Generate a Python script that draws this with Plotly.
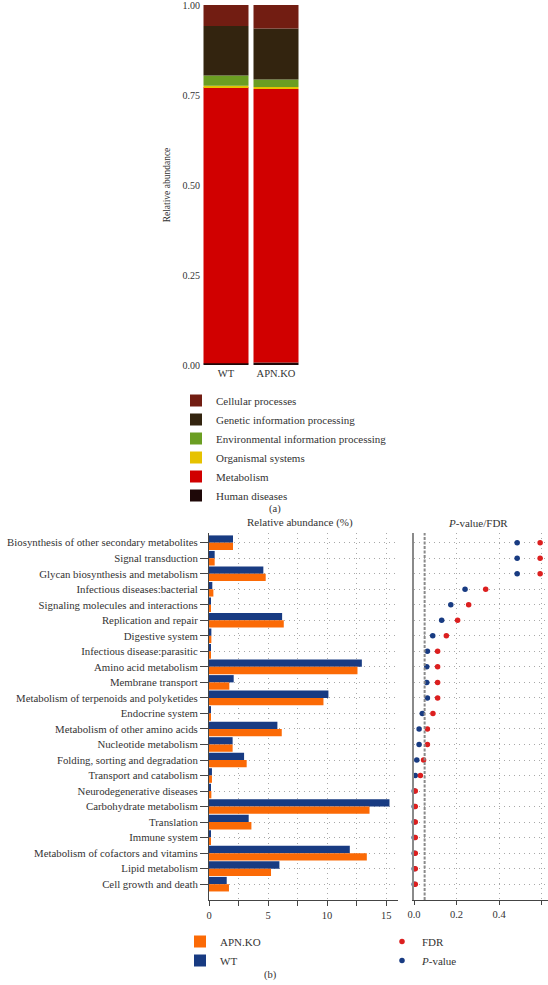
import plotly.graph_objects as go
import numpy as np

W, H = 548, 985
FONT = "Liberation Serif"
TXT = "#333333"
GRID = "#a8a8a8"
DOT = "1px,4px"

# ---------------- Panel (a): level-1 KEGG composition ----------------
samples = ["WT", "APN.KO"]
level1 = ["Human diseases", "Metabolism", "Organismal systems",
          "Environmental information processing",
          "Genetic information processing", "Cellular processes"]
level1_colors = ["#1e0808", "#d10000", "#e6c200", "#6b9e22", "#33240f", "#721d12"]
wt_level1 = [0.005, 0.7665, 0.0045, 0.028, 0.138, 0.058]
ko_level1 = [0.007, 0.760, 0.005, 0.021, 0.142, 0.065]

# ---------------- Panel (b): level-2 pathways ----------------
pathways = [
    "Biosynthesis of other secondary metabolites", "Signal transduction",
    "Glycan biosynthesis and metabolism", "Infectious diseases:bacterial",
    "Signaling molecules and interactions", "Replication and repair",
    "Digestive system", "Infectious disease:parasitic", "Amino acid metabolism",
    "Membrane transport", "Metabolism of terpenoids and polyketides",
    "Endocrine system", "Metabolism of other amino acids", "Nucleotide metabolism",
    "Folding, sorting and degradation", "Transport and catabolism",
    "Neurodegenerative diseases", "Carbohydrate metabolism", "Translation",
    "Immune system", "Metabolism of cofactors and vitamins", "Lipid metabolism",
    "Cell growth and death"]
wt_pct = [2.03, 0.48, 4.6, 0.28, 0.14, 6.19, 0.2, 0.1, 12.94, 2.09, 10.11, 0.17,
          5.79, 2.0, 2.97, 0.25, 0.13, 15.28, 3.36, 0.12, 11.92, 5.96, 1.5]
ko_pct = [2.03, 0.48, 4.8, 0.37, 0.1, 6.33, 0.2, 0.1, 12.57, 1.72, 9.69, 0.17,
          6.16, 2.0, 3.19, 0.25, 0.2, 13.59, 3.59, 0.1, 13.36, 5.25, 1.69]
p_values = [0.485, 0.485, 0.485, 0.240, 0.173, 0.130, 0.088, 0.063, 0.060, 0.060,
            0.063, 0.039, 0.024, 0.024, 0.013, 0.006, 0.001, 0.001, 0.001, 0.001,
            0.001, 0.001, 0.001]
fdr_values = [0.593, 0.593, 0.593, 0.337, 0.257, 0.205, 0.152, 0.111, 0.111, 0.111,
              0.111, 0.089, 0.063, 0.063, 0.045, 0.030, 0.006, 0.006, 0.006, 0.006,
              0.006, 0.006, 0.006]
sig_level = 0.05

WT_COLOR = "#183b82"
KO_COLOR = "#fb6a06"
FDR_COLOR = "#dc1f1f"
P_COLOR = "#183b82"


def fx(px):
    return px / W


def fy(py):
    return 1 - py / H


fig = go.Figure()

# stacked bars via cumulative bases
wt_arr = np.array(wt_level1)
ko_arr = np.array(ko_level1)
wt_base = np.concatenate([[0], np.cumsum(wt_arr)[:-1]])
ko_base = np.concatenate([[0], np.cumsum(ko_arr)[:-1]])
for i, name in enumerate(level1):
    fig.add_trace(go.Bar(
        x=samples, y=[wt_arr[i], ko_arr[i]], base=[wt_base[i], ko_base[i]],
        name=name, marker=dict(color=level1_colors[i], line=dict(width=0)),
        width=0.9, xaxis="x", yaxis="y", legend="legend"))

# grouped horizontal bars
fig.add_trace(go.Bar(
    y=pathways, x=wt_pct, orientation="h", name="WT",
    marker=dict(color=WT_COLOR, line=dict(width=0)),
    width=0.47, offset=-0.47, xaxis="x2", yaxis="y2", legend="legend2"))
fig.add_trace(go.Bar(
    y=pathways, x=ko_pct, orientation="h", name="APN.KO",
    marker=dict(color=KO_COLOR, line=dict(width=0)),
    width=0.47, offset=0.0, xaxis="x2", yaxis="y2", legend="legend2"))

# p-value / FDR dots
fig.add_trace(go.Scatter(
    y=pathways, x=p_values, mode="markers", name="<i>P</i>-value",
    marker=dict(color=P_COLOR, size=5.5), cliponaxis=False,
    xaxis="x3", yaxis="y3", legend="legend3"))
fig.add_trace(go.Scatter(
    y=pathways, x=fdr_values, mode="markers", name="FDR",
    marker=dict(color=FDR_COLOR, size=5.5), cliponaxis=False,
    xaxis="x3", yaxis="y3", legend="legend3"))

fig.add_shape(type="line", xref="x3", yref="y3 domain", x0=sig_level, x1=sig_level,
              y0=0, y1=1, line=dict(color="#8a8a8a", width=2, dash="3px,1.5px"))

n = len(pathways)
yrange = [n - 1 + 1.02, -0.625]
cat_font = dict(family=FONT, size=10.8, color=TXT)
leg_font = dict(family=FONT, size=11, color=TXT)

fig.update_layout(
    width=W, height=H, margin=dict(l=0, r=0, t=0, b=0, autoexpand=False),
    paper_bgcolor="white", plot_bgcolor="white",
    barmode="overlay", font=dict(family=FONT, size=10.5, color=TXT),
    xaxis=dict(domain=[fx(201), fx(301)], range=[-0.5, 1.5], anchor="y",
               showline=False, showgrid=False, zeroline=False, ticks="",
               tickfont=dict(family=FONT, size=10.5, color=TXT)),
    yaxis=dict(domain=[fy(365), fy(5)], range=[0, 1], anchor="x",
               tickvals=[0, 0.25, 0.5, 0.75, 1.0], ticklabeloverflow="allow",
               tickformat=".2f", showline=False, showgrid=False, zeroline=False, ticks="",
               tickfont=dict(family=FONT, size=10, color=TXT),
               title=dict(text="Relative abundance", standoff=10,
                          font=dict(family=FONT, size=9.5, color=TXT))),
    xaxis2=dict(domain=[fx(209), fx(398)], range=[0, 16], tick0=0, dtick=5,
                anchor="y2",
                showline=True, linecolor="#444", linewidth=1, ticks="outside",
                ticklen=5, tickcolor="#444", zeroline=False,
                showgrid=True, gridcolor=GRID, griddash=DOT, gridwidth=1,
                minor=dict(dtick=2.5, tick0=0, ticks="outside", ticklen=5,
                           tickcolor="#444", showgrid=True, gridcolor=GRID,
                           griddash=DOT),
                tickfont=dict(family=FONT, size=10.5, color=TXT)),
    yaxis2=dict(domain=[fy(900), fy(533)], type="category", range=yrange,
                anchor="x2",
                categoryorder="array", categoryarray=pathways,
                showline=True, linecolor="#444", linewidth=1, ticks="outside",
                ticklen=8, tickcolor="#444", zeroline=False,
                showgrid=True, gridcolor=GRID, griddash=DOT, gridwidth=1,
                tickfont=cat_font),
    xaxis3=dict(domain=[fx(414), 1.0], range=[0, 0.63], tick0=0, dtick=0.2,
                anchor="y3",
                tickformat=".1f", showline=True, linecolor="#444", linewidth=1,
                ticks="outside", ticklen=4, tickcolor="#444", zeroline=False,
                showgrid=True, gridcolor=GRID, griddash=DOT,
                tickfont=dict(family=FONT, size=10.5, color=TXT)),
    yaxis3=dict(domain=[fy(900), fy(533)], type="category", range=yrange,
                anchor="x3",
                categoryorder="array", categoryarray=pathways,
                showline=True, linecolor="#8a8a8a", linewidth=2, ticks="",
                showticklabels=False, zeroline=False,
                showgrid=True, gridcolor=GRID, griddash=DOT),
    legend=dict(x=fx(176), y=fy(386), xanchor="left", yanchor="top",
                traceorder="reversed", bgcolor="rgba(0,0,0,0)", font=leg_font),
    legend2=dict(x=fx(180), y=fy(927), xanchor="left", yanchor="top",
                 traceorder="reversed", bgcolor="rgba(0,0,0,0)", font=leg_font),
    legend3=dict(x=fx(382), y=fy(927), xanchor="left", yanchor="top",
                 traceorder="reversed", bgcolor="rgba(0,0,0,0)", font=leg_font),
    annotations=[
        dict(text="(a)", x=fx(275), y=fy(509), xref="paper", yref="paper",
             xanchor="center", yanchor="middle", showarrow=False,
             font=dict(family=FONT, size=10.5, color=TXT)),
        dict(text="Relative abundance (%)", x=fx(300), y=fy(522), xref="paper",
             yref="paper", xanchor="center", yanchor="middle", showarrow=False,
             font=dict(family=FONT, size=11, color=TXT)),
        dict(text="<i>P</i>-value/FDR", x=fx(478), y=fy(523), xref="paper",
             yref="paper", xanchor="center", yanchor="middle", showarrow=False,
             font=dict(family=FONT, size=11, color=TXT)),
        dict(text="(b)", x=fx(270), y=fy(975), xref="paper", yref="paper",
             xanchor="center", yanchor="middle", showarrow=False,
             font=dict(family=FONT, size=10.5, color=TXT)),
    ],
)

fig.write_html("out.html", config={"displayModeBar": False},
               post_script="document.body.style.margin='0';document.body.style.padding='0';")
